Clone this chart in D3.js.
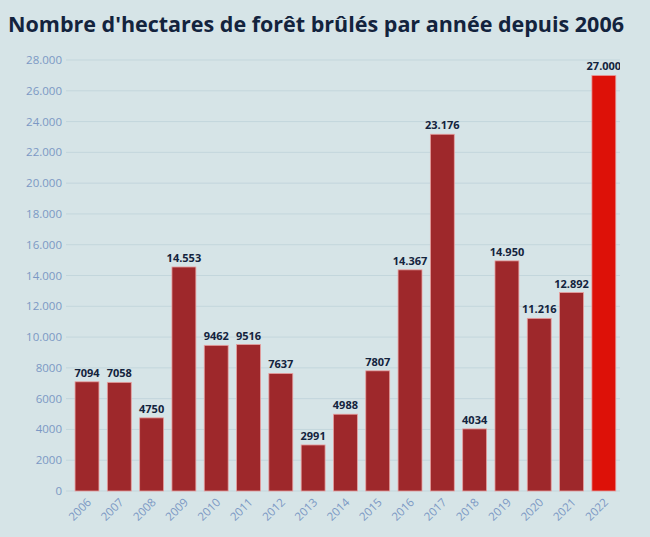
<!DOCTYPE html><html><head><meta charset="utf-8">
<script src="https://cdn.jsdelivr.net/npm/d3@7"></script>
<style>body{margin:0;background:#d6e4e7}</style></head><body><svg id="c" width="650" height="537"></svg>
<script>
const years=["2006","2007","2008","2009","2010","2011","2012","2013","2014","2015","2016","2017","2018","2019","2020","2021","2022"];
const hectares=[7094,7058,4750,14553,9462,9516,7637,2991,4988,7807,14367,23176,4034,14950,11216,12892,27000];
const yTicks=[0,2000,4000,6000,8000,10000,12000,14000,16000,18000,20000,22000,24000,26000,28000];
const fmt=v=>v>=10000?d3.format(",")(v).replace(/,/g,"."):String(v);
const svg=d3.select("#c");
svg.append("rect").attr("width",650).attr("height",537).attr("fill","#d6e4e7");
svg.append("text").attr("x",8).attr("y",32).attr("font-family","Open Sans").attr("font-weight",700).attr("font-size",21.5).attr("fill","#13233d").text("Nombre d'hectares de forêt brûlés par année depuis 2006");
const x=d3.scaleBand().domain(years).range([70.85,620]).paddingInner(0.26).paddingOuter(0.13);
const y=d3.scaleLinear().domain([0,28000]).range([491,60]);
svg.append("defs").append("clipPath").attr("id","cp").append("rect").attr("x",0).attr("y",0).attr("width",620).attr("height",537);
const g=svg.append("g").attr("clip-path","url(#cp)");
g.selectAll("line.gr").data(yTicks).join("line").attr("x1",66).attr("x2",620).attr("y1",d=>y(d)).attr("y2",d=>y(d)).attr("stroke","#c3d6dc").attr("stroke-width",1);
svg.selectAll("text.yl").data(yTicks).join("text").attr("x",62).attr("y",d=>y(d)+4).attr("text-anchor","end").attr("font-family","Open Sans").attr("font-size",11.5).attr("fill","#7b98c4").text(fmt);
g.selectAll("rect.b").data(years).join("rect").attr("x",d=>x(d)).attr("width",x.bandwidth()).attr("y",(d,i)=>y(hectares[i])).attr("height",(d,i)=>491-y(hectares[i])).attr("fill",(d,i)=>i==16?"#dd1108":"#9e282b").attr("stroke","#e8a0a0").attr("stroke-width",0.8);
g.selectAll("text.v").data(years).join("text").attr("x",d=>x(d)+x.bandwidth()/2).attr("y",(d,i)=>y(hectares[i])-5).attr("text-anchor","middle").attr("font-family","Open Sans").attr("font-weight",700).attr("font-size",11).attr("fill","#13233d").text((d,i)=>fmt(hectares[i]));
svg.selectAll("text.xl").data(years).join("text").attr("transform",d=>`translate(${x(d)+x.bandwidth()/2+5},${503}) rotate(-45)`).attr("text-anchor","end").attr("font-family","Open Sans").attr("font-size",11.5).attr("fill","#7b98c4").text(d=>d);
</script></body></html>
